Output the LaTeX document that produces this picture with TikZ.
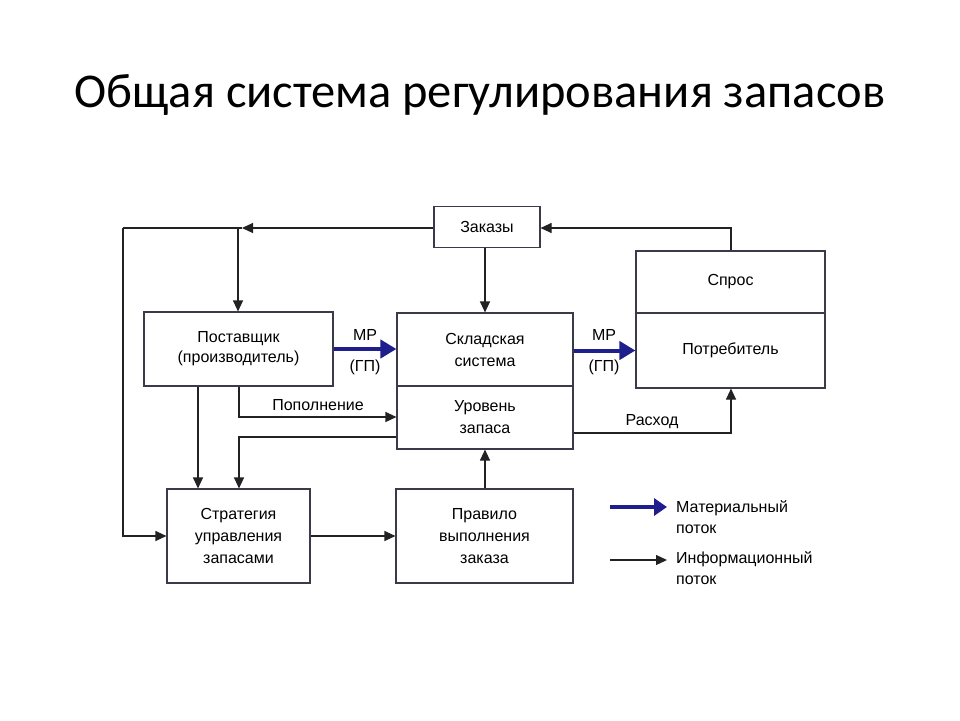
\documentclass[tikz,border=0pt]{standalone}
\usepackage{fontspec}
\setmainfont{Liberation Sans}
\newfontfamily\titlefont{Carlito}
\usetikzlibrary{arrows.meta,calc}
\definecolor{boxline}{HTML}{3A3A4A}
\definecolor{infoc}{HTML}{222222}
\definecolor{matc}{HTML}{1E1E8C}
\begin{document}
\begin{tikzpicture}[x=1pt,y=-1pt,
  box/.style={draw=boxline,line width=1.1pt,rectangle,inner sep=0pt,align=center,font=\fontsize{16}{22}\selectfont},
  info/.style={draw=infoc,line width=1.1pt,-{Triangle[length=11pt,width=10pt]}},
  infoline/.style={draw=infoc,line width=1.1pt},
  mat/.style={draw=matc,line width=4pt,-{Triangle[length=16pt,width=18pt]}},
  lbl/.style={font=\fontsize{16}{20}\selectfont,inner sep=0pt},
]
\useasboundingbox (0,0) rectangle (960,720);
\node[font=\titlefont\fontsize{48.5}{55}\selectfont,anchor=base,inner sep=0pt] (title) at (480,107) {Общая система регулирования запасов};

\node[box,minimum width=106pt,minimum height=41pt] (zak) at (487,227) {Заказы};
\node[box,minimum width=189pt,minimum height=74pt,font=\fontsize{16}{20}\selectfont] (post) at (238.5,349) {Поставщик\\(производитель)};
\node[box,minimum width=176pt,minimum height=73pt] (sklad) at (485,349.5) {Складская\\система};
\node[box,minimum width=176pt,minimum height=63pt] (uroven) at (485,417.5) {Уровень\\запаса};
\node[box,minimum width=189pt,minimum height=62pt] (spros) at (730.5,282) {Спрос};
\node[box,minimum width=189pt,minimum height=75pt] (potr) at (730.5,350.5) {Потребитель};
\node[box,minimum width=143pt,minimum height=94pt] (strat) at (238.5,536) {Стратегия\\управления\\запасами};
\node[box,minimum width=177pt,minimum height=94pt] (prav) at (484.5,536) {Правило\\выполнения\\заказа};

% Заказы -> left
\coordinate (jA) at (238,228);
\coordinate (tipA) at (242,228);
\coordinate (cornerL) at (123,228);
\draw[info] (zak.west |- tipA) -- (tipA);
\draw[infoline] (tipA) -- (cornerL);
\draw[info] (cornerL) |- (strat.west);
\draw[info] (jA) -- (post.north -| jA);
% Заказы -> Складская
\draw[info] (sklad.north |- zak.south) -- (sklad.north);
% Спрос -> Заказы
\coordinate (sprosTop) at (731,228);
\draw[info] (spros.north -| sprosTop) -- (sprosTop) -- (zak.east |- sprosTop);

% material flows
\draw[mat] (post.east) -- (sklad.west |- post.east);
\node[lbl] (mp1) at (365,335) {МР};
\node[lbl] (gp1) at (365,367) {(ГП)};
\draw[mat] (sklad.east |- potr.west) -- (potr.west);
\node[lbl] (mp2) at (604,335) {МР};
\node[lbl] (gp2) at (604,367) {(ГП)};

% Поставщик -> Стратегия
\draw[info] (post.south -| 198,0) -- (strat.north -| 198,0);
% Поставщик -> Уровень (Пополнение)
\coordinate (popC) at (239,417);
\draw[info] (post.south -| popC) -- (popC) -- (uroven.west |- popC);
\node[lbl] (pop) at (318,405) {Пополнение};
% Уровень -> Стратегия
\coordinate (urC) at (239,437);
\draw[info] (uroven.west |- urC) -- (urC) -- (strat.north -| urC);
% Уровень -> Потребитель (Расход)
\coordinate (rasC) at (731,433);
\draw[info] (uroven.east |- rasC) -- (rasC) -- (potr.south -| rasC);
\node[lbl] (ras) at (652,422) {Расход};
% Правило -> Уровень
\coordinate (pvC) at (485,500);
\draw[info] (prav.north -| pvC) -- (uroven.south -| pvC);
% Стратегия -> Правило
\draw[info] (strat.east) -- (prav.west);

% legend
\coordinate (l1a) at (610,507);
\coordinate (l1b) at (667,507);
\draw[matc,line width=4pt,-{Triangle[length=13pt,width=17pt]}] (l1a) -- (l1b);
\node[lbl,anchor=north west,align=left,font=\fontsize{16}{21}\selectfont] (leg1) at (676,500) {Материальный\\поток};
\coordinate (l2a) at (610,560);
\coordinate (l2b) at (667,560);
\draw[info] (l2a) -- (l2b);
\node[lbl,anchor=north west,align=left,font=\fontsize{16}{21}\selectfont] (leg2) at (676,551) {Информационный\\поток};
\end{tikzpicture}
\end{document}
